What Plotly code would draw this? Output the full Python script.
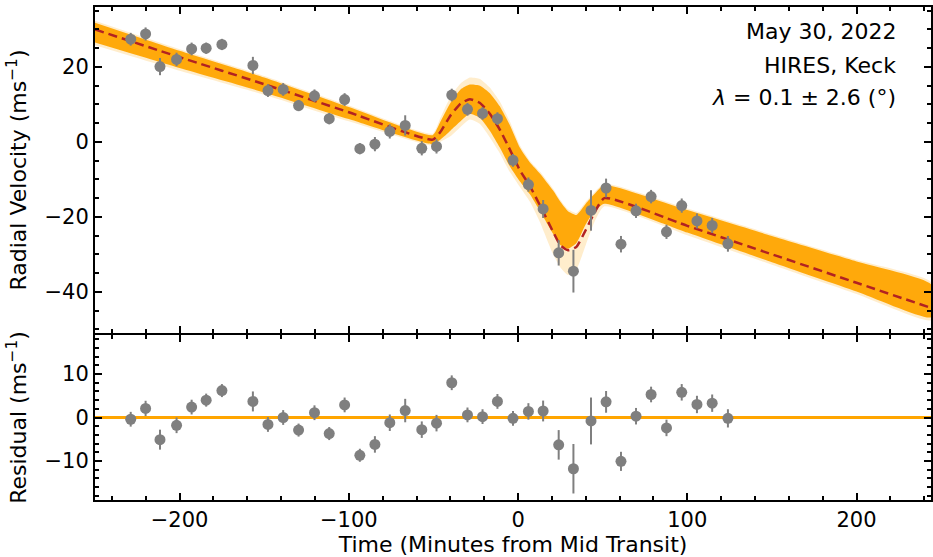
import plotly.graph_objects as go

# ---- data ----
time_min = [-228.9, -220.1, -211.6, -201.8, -192.9, -184.3, -175.0, -156.7, -147.8, -138.8,
            -129.7, -120.3, -111.6, -102.5, -93.5, -84.6, -75.8, -66.7, -56.9, -48.2,
            -39.2, -29.9, -21.0, -12.2, -3.0, 6.1, 14.8, 24.0, 32.7, 43.1,
            52.0, 60.8, 69.7, 78.6, 87.7, 96.7, 105.7, 114.7, 124.0]
rv = [27.4, 28.8, 20.1, 22.0, 24.8, 25.0, 26.0, 20.4, 13.7, 14.0,
      9.7, 12.3, 6.2, 11.3, -1.8, -0.6, 2.8, 4.4, -1.7, -1.2,
      12.5, 8.7, 7.6, 6.2, -4.9, -11.4, -17.9, -29.6, -34.5, -18.3,
      -12.3, -27.3, -18.4, -14.6, -24.0, -17.0, -21.1, -22.3, -27.2]
rv_err = [1.7, 1.75, 2.3, 1.8, 1.7, 1.5, 1.5, 2.3, 1.7, 1.7,
          1.5, 1.7, 1.5, 1.7, 1.5, 1.9, 1.9, 2.7, 1.9, 1.9,
          1.7, 1.7, 1.7, 1.7, 1.7, 1.9, 2.4, 3.4, 5.7, 5.4,
          2.5, 2.2, 1.9, 1.8, 1.9, 1.9, 2.0, 2.0, 2.1]
residual = [-0.4, 2.1, -5.1, -1.8, 2.4, 4.0, 6.2, 3.7, -1.6, 0.0,
            -2.9, 1.1, -3.7, 2.9, -8.7, -6.2, -1.2, 1.6, -2.8, -1.3,
            8.0, 0.6, 0.2, 3.7, -0.2, 1.4, 1.5, -6.3, -11.8, -0.8,
            3.6, -10.1, 0.3, 5.3, -2.4, 5.8, 3.0, 3.3, -0.2]

# best-fit model (dashed) and posterior band edges
model_t = [-250, -200, -150, -100, -50.5, -46, -40, -34, -28.5, -22.5, -16.7, -10.8, -4.9,
           1, 7, 13, 20.7, 25, 29.5, 34.5, 40, 45, 51, 100, 150, 200, 244]
model_rv = [30.0, 22.6, 15.4, 7.9, 0.6, 2.6, 7.0, 10.2, 11.4, 10.4, 7.5, 3.3, -2.0,
            -7.5, -11.8, -17.0, -24.0, -27.6, -28.9, -28.0, -23.5, -19.0, -15.0,
            -22.4, -30.0, -37.6, -44.3]
core_hi = [31.8, 24.3, 17.2, 9.3, 1.8, 5.3, 10.4, 14.0, 15.3, 15.0, 13.0, 9.5, 4.5,
           -1.5, -5.5, -8.5, -13.0, -16.0, -18.5, -19.5, -16.5, -14.0, -11.5,
           -18.2, -25.1, -31.9, -38.0]
core_lo = [26.5, 19.7, 13.2, 6.1, -0.6, 0.6, 3.0, 5.5, 7.5, 6.4, 3.0, -1.5, -6.5,
           -10.5, -14.0, -18.5, -24.5, -27.5, -28.5, -27.0, -22.0, -18.5, -16.5,
           -24.2, -32.1, -39.9, -46.8]
faint_hi = [32.3, 24.7, 17.6, 9.7, 2.2, 6.3, 12.0, 15.6, 17.2, 16.8, 14.5, 10.8, 5.5,
            -0.8, -5.0, -8.0, -12.5, -15.5, -18.0, -19.0, -16.0, -13.5, -11.1,
            -17.8, -24.7, -31.5, -37.4]
faint_lo = [25.8, 19.0, 12.6, 5.5, -1.0, 0.0, 1.5, 4.0, 6.0, 4.8, 1.2, -3.0, -8.0,
            -12.0, -16.0, -21.5, -30.0, -33.5, -35.5, -34.0, -27.5, -21.5, -17.2,
            -24.9, -32.8, -40.6, -47.6]

x_range = [-250, 244]
top_y_range = [-51, 36]
bot_y_range = [-19, 19]

FONT = "DejaVu Sans"
FS_TICK = 21
FS_TITLE = 22
GREY = "#7f7f7f"
ORANGE = "#FFA500"
DASH_RED = "#B22222"

fig = go.Figure()

# faint posterior band
fig.add_trace(go.Scatter(x=model_t + model_t[::-1], y=faint_hi + faint_lo[::-1],
                         fill="toself", fillcolor="rgba(255,165,0,0.2)",
                         line=dict(width=0, shape="spline", smoothing=0.5),
                         mode="lines", hoverinfo="skip", showlegend=False,
                         xaxis="x", yaxis="y"))
# core band
fig.add_trace(go.Scatter(x=model_t + model_t[::-1], y=core_hi + core_lo[::-1],
                         fill="toself", fillcolor="rgba(255,165,0,0.95)",
                         line=dict(width=0, shape="spline", smoothing=0.5),
                         mode="lines", hoverinfo="skip", showlegend=False,
                         xaxis="x", yaxis="y"))
# best fit dashed model
fig.add_trace(go.Scatter(x=model_t, y=model_rv, mode="lines",
                         line=dict(color=DASH_RED, width=2.5, dash="9px,5px",
                                   shape="spline", smoothing=0.5),
                         showlegend=False, xaxis="x", yaxis="y"))
# RV data
fig.add_trace(go.Scatter(x=time_min, y=rv, mode="markers",
                         marker=dict(color=GREY, size=11),
                         error_y=dict(type="data", array=rv_err, color=GREY,
                                      thickness=2, width=0),
                         showlegend=False, xaxis="x", yaxis="y"))

# zero line in residual panel
fig.add_trace(go.Scatter(x=x_range, y=[0, 0], mode="lines",
                         line=dict(color=ORANGE, width=3),
                         showlegend=False, xaxis="x2", yaxis="y2"))
# residuals
fig.add_trace(go.Scatter(x=time_min, y=residual, mode="markers",
                         marker=dict(color=GREY, size=11),
                         error_y=dict(type="data", array=rv_err, color=GREY,
                                      thickness=2, width=0),
                         showlegend=False, xaxis="x2", yaxis="y2"))

H = 557
T, B = 7, 57
ph = H - T - B
top_dom = [(H - B - 333) / ph, 1.0]
bot_dom = [0.0, (H - B - 335) / ph]

axis_common = dict(showline=True, linecolor="black", linewidth=2, mirror="allticks",
                   ticks="inside", ticklen=7, tickwidth=2, tickcolor="black",
                   showgrid=False, zeroline=False, automargin=False,
                   tickfont=dict(family=FONT, size=FS_TICK, color="black"))
minor_common = dict(ticklen=4, tickwidth=1.5, tickcolor="black", ticks="inside")

fig.update_layout(
    width=933, height=H,
    margin=dict(l=95, r=2, t=T, b=B),
    paper_bgcolor="white", plot_bgcolor="white",
    font=dict(family=FONT, size=FS_TICK, color="black"),
    xaxis=dict(domain=[0, 1], anchor="y", range=x_range, dtick=100, showticklabels=False,
               minor=dict(dtick=20, **minor_common), **axis_common),
    yaxis=dict(domain=top_dom, anchor="x", range=top_y_range, dtick=20,
               minor=dict(dtick=5, **minor_common),
               title=dict(text="Radial Velocity (ms<sup>−1</sup>)", standoff=12,
                          font=dict(family=FONT, size=FS_TITLE)),
               **axis_common),
    xaxis2=dict(domain=[0, 1], anchor="y2", range=x_range, dtick=100, matches="x",
                minor=dict(dtick=20, **minor_common),
                title=dict(text="Time (Minutes from Mid Transit)", standoff=0,
                           font=dict(family=FONT, size=FS_TITLE)),
                **axis_common),
    yaxis2=dict(domain=bot_dom, anchor="x2", range=bot_y_range, dtick=10,
                minor=dict(dtick=2, **minor_common),
                title=dict(text="Residual (ms<sup>−1</sup>)", standoff=12,
                           font=dict(family=FONT, size=FS_TITLE)),
                **axis_common),
)

ann_x = (898 - 95) / (933 - 95 - 2)
for txt, py in [("May 30, 2022", 32), ("HIRES, Keck", 65),
                ("<i>λ</i> = 0.1 ± 2.6 (°)", 98)]:
    fig.add_annotation(text=txt, xref="paper", yref="paper", x=ann_x,
                       y=(H - B - py) / ph, xanchor="right", yanchor="middle",
                       showarrow=False, font=dict(family=FONT, size=FS_TITLE, color="black"))

fig.write_html("out.html", config={"displayModeBar": False},
               post_script="document.body.style.margin='0px';document.body.style.padding='0px';")
